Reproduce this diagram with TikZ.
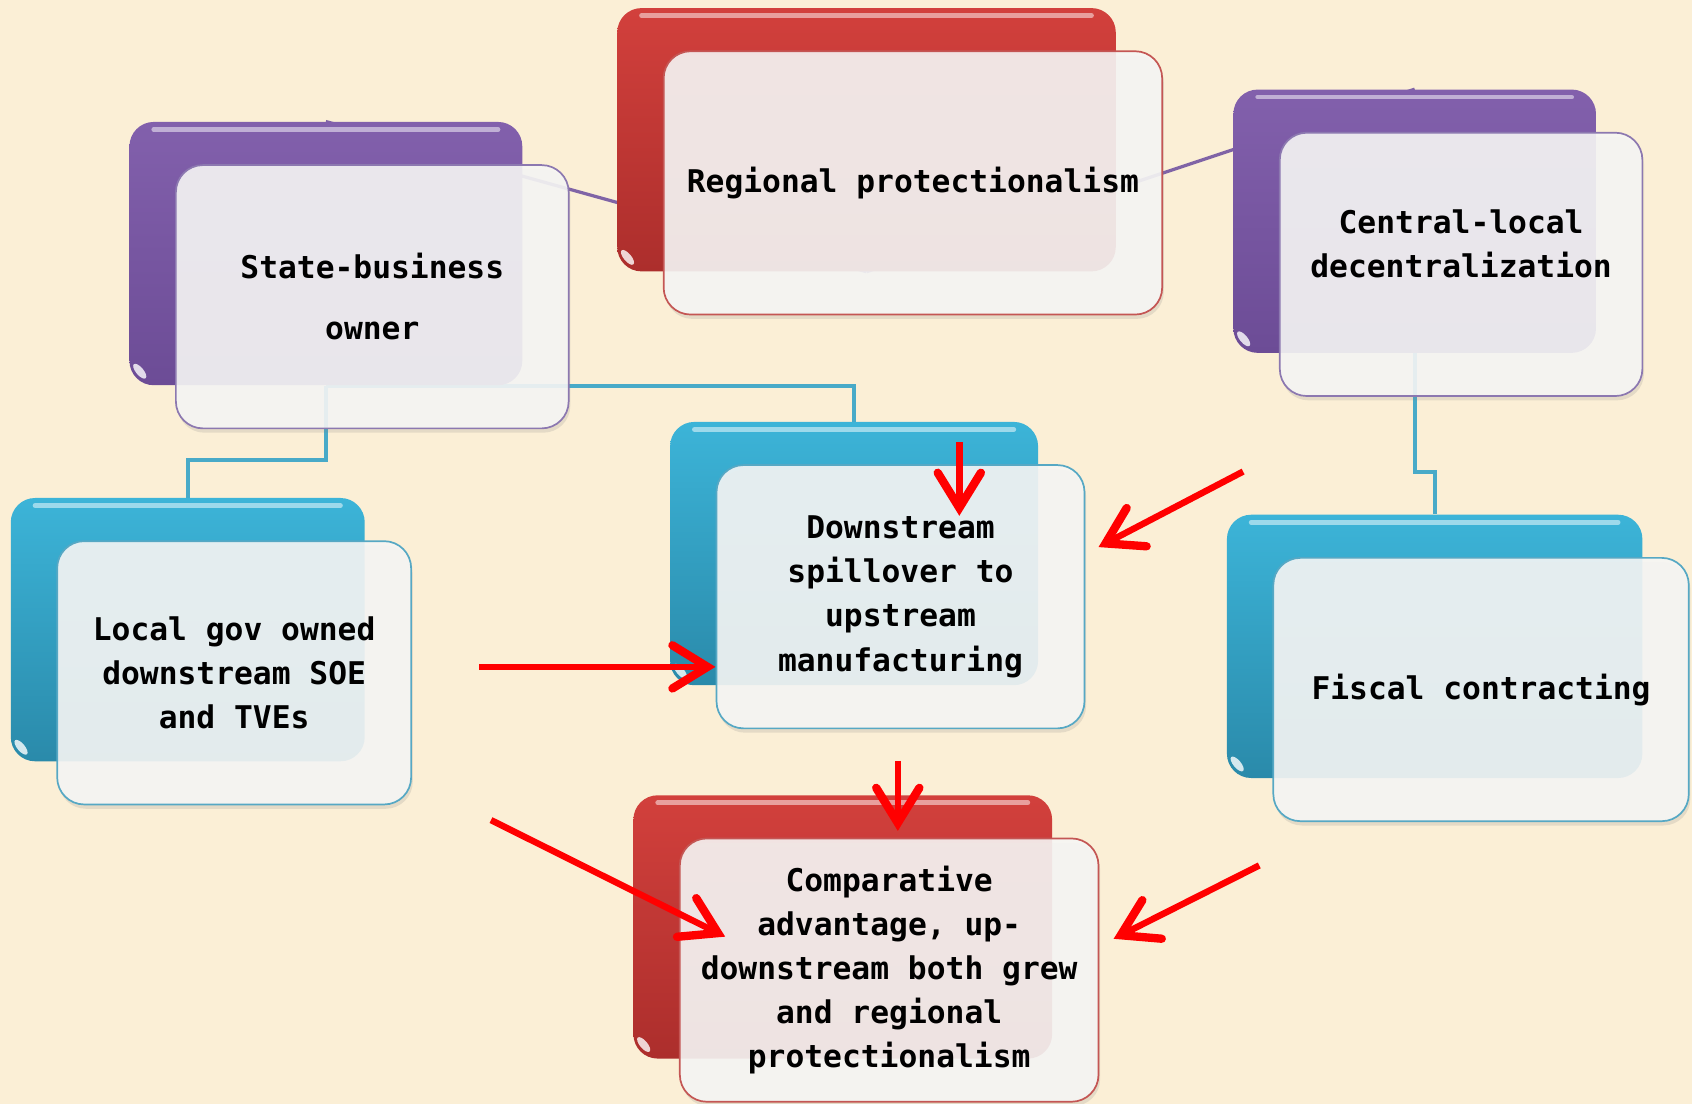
\documentclass[tikz,border=0pt]{standalone}
\usepackage{fontspec}
\newfontfamily\cardfont{DejaVu Sans Mono}
\usetikzlibrary{arrows.meta,positioning,backgrounds,shadows}

\definecolor{paper}{RGB}{251,239,214}
\definecolor{plumtop}{RGB}{130,96,172}
\definecolor{plumbot}{RGB}{108,76,150}
\definecolor{bricktop}{RGB}{210,64,60}
\definecolor{brickbot}{RGB}{172,46,44}
\definecolor{aquatop}{RGB}{60,180,216}
\definecolor{aquabot}{RGB}{42,138,170}
\definecolor{plumline}{RGB}{128,100,166}
\definecolor{aqualine}{RGB}{72,170,200}
\definecolor{plumedge}{RGB}{140,120,176}
\definecolor{brickedge}{RGB}{196,86,84}
\definecolor{aquaedge}{RGB}{86,168,196}
\definecolor{cardfill}{RGB}{246,246,245}

\pgfdeclarelayer{links}
\pgfsetlayers{links,background,main}

\begin{document}
\begin{tikzpicture}[
    % glossy back cards
    backcard/.style={rounded corners=4.5mm, minimum height=4.88cm, inner sep=0pt,
        path picture={
            \draw[white, opacity=0.5, line width=2.5pt, line cap=round]
                ([xshift=4.5mm,yshift=-1.4mm]path picture bounding box.north west) --
                ([xshift=-4.5mm,yshift=-1.4mm]path picture bounding box.north east);
            \fill[white, opacity=0.8]
                ([xshift=1.9mm,yshift=2.6mm]path picture bounding box.south west)
                ellipse [x radius=0.7mm, y radius=1.7mm, rotate=40];
        }},
    plumback/.style={backcard, top color=plumtop, bottom color=plumbot},
    brickback/.style={backcard, top color=bricktop, bottom color=brickbot},
    aquaback/.style={backcard, top color=aquatop, bottom color=aquabot},
    % front cards, a little see-through
    card/.style={draw, line width=0.9pt, fill=cardfill, fill opacity=0.9, text opacity=1,
        rounded corners=5mm, minimum height=4.88cm, inner sep=0pt, align=center,
        font=\cardfont\bfseries\fontsize{16.5}{23.3}\selectfont,
        drop shadow={opacity=0.18, shadow xshift=0.3mm, shadow yshift=-0.8mm}},
    plumcard/.style={card, draw=plumedge},
    brickcard/.style={card, draw=brickedge},
    aquacard/.style={card, draw=aquaedge},
    cardtext/.style={align=center, inner sep=0pt, font=\cardfont\bfseries\fontsize{16.5}{23.3}\selectfont},
    % connectors
    plumlink/.style={draw=plumline, line width=1.7pt},
    aqualink/.style={draw=aqualine, line width=2pt},
    push/.style={draw=red, line width=3.4pt, -{Straight Barb[length=6.5mm, width=8mm, line width=4.4pt, line cap=round]}}
]

\useasboundingbox (0,0) rectangle (31.36,20.46);

% Front cards
\node[plumcard, minimum width=7.28cm, font=\cardfont\bfseries\fontsize{16.5}{32.4}\selectfont] (sb) at (6.90,14.96) {State-business\\owner};
\node[brickcard, minimum width=9.24cm] (rp) at (16.92,17.07) {Regional protectionalism};
\node[plumcard, minimum width=6.72cm] (cl) at (27.08,15.56) {};
\node[cardtext] (cltext) at ([yshift=3.8mm]cl.center) {Central-local\\decentralization};
\node[aquacard, minimum width=6.56cm] (lg) at (4.34,7.99) {Local gov owned\\downstream SOE\\and TVEs};
\node[aquacard, minimum width=6.82cm] (ds) at (16.69,9.40) {Downstream\\spillover to\\upstream\\manufacturing};
\node[aquacard, minimum width=7.70cm] (fc) at (27.45,7.68) {Fiscal contracting};
\node[brickcard, minimum width=7.76cm] (ca) at (16.48,2.48) {Comparative\\advantage, up-\\downstream both grew\\and regional\\protectionalism};

% Back cards sit up and to the left of each front card
\begin{scope}[on background layer]
    \node[plumback, minimum width=7.28cm] (sbback) at ([xshift=-8.6mm,yshift=8mm]sb.center) {};
    \node[brickback, minimum width=9.24cm] (rpback) at ([xshift=-8.6mm,yshift=8mm]rp.center) {};
    \node[plumback, minimum width=6.72cm] (clback) at ([xshift=-8.6mm,yshift=8mm]cl.center) {};
    \node[aquaback, minimum width=6.56cm] (lgback) at ([xshift=-8.6mm,yshift=8mm]lg.center) {};
    \node[aquaback, minimum width=6.82cm] (dsback) at ([xshift=-8.6mm,yshift=8mm]ds.center) {};
    \node[aquaback, minimum width=7.70cm] (fcback) at ([xshift=-8.6mm,yshift=8mm]fc.center) {};
    \node[brickback, minimum width=7.76cm] (caback) at ([xshift=-8.6mm,yshift=8mm]ca.center) {};
\end{scope}

% Paper and hierarchy lines underneath everything
\begin{pgfonlayer}{links}
    \fill[paper] (0,0) rectangle (31.36,20.46);
    \draw[plumlink] (rpback.south) -- (sbback.north);
    \draw[plumlink] (rpback.south) -- (clback.north);
    \draw[aqualink] (sbback.south) -- ++(0,-1.38) -| (lgback.north);
    \draw[aqualink] (sbback.south) -| (dsback.north);
    \draw[aqualink] (clback.south) -- ++(0,-2.2) -| (fcback.north);
\end{pgfonlayer}

% Red arrows
\coordinate (topin) at (17.78,12.26);
\coordinate (topinend) at (17.78,10.90);
\coordinate (rightin) at (23.04,11.72);
\coordinate (rightinend) at (20.36,10.32);
\coordinate (leftin) at (8.88,8.10);
\coordinate (leftinend) at (13.26,8.10);
\coordinate (downin) at (16.64,6.36);
\coordinate (downinend) at (16.64,5.06);
\coordinate (lowleft) at (9.10,5.26);
\coordinate (lowleftend) at (13.44,3.10);
\coordinate (lowright) at (23.34,4.42);
\coordinate (lowrightend) at (20.64,3.06);

\draw[push] (topin) -- (topinend);
\draw[push] (rightin) -- (rightinend);
\draw[push] (leftin) -- (leftinend);
\draw[push] (downin) -- (downinend);
\draw[push] (lowleft) -- (lowleftend);
\draw[push] (lowright) -- (lowrightend);

\end{tikzpicture}
\end{document}
